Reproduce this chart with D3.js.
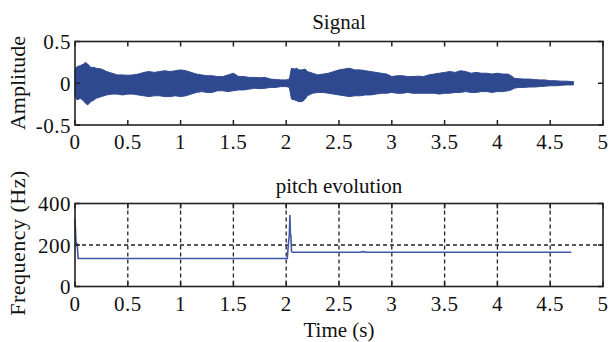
<!DOCTYPE html>
<html>
<head>
<meta charset="utf-8">
<script src="https://cdn.jsdelivr.net/npm/d3@7"></script>
<style>
  body { margin: 0; background: #fff; }
</style>
</head>
<body>
<div id="chart"></div>
<script>
// signal envelope (time in s, amplitude)
const sigTime  = [0, 0.02, 0.05, 0.08, 0.1, 0.12, 0.15, 0.18, 0.2, 0.25, 0.3, 0.35, 0.4, 0.45, 0.5, 0.55, 0.6, 0.65, 0.7, 0.75, 0.8, 0.85, 0.9, 0.95, 1.0, 1.05, 1.1, 1.15, 1.2, 1.25, 1.3, 1.35, 1.4, 1.45, 1.5, 1.55, 1.6, 1.65, 1.7, 1.75, 1.8, 1.85, 1.9, 1.95, 2.0, 2.03, 2.05, 2.08, 2.1, 2.12, 2.15, 2.18, 2.2, 2.25, 2.3, 2.35, 2.4, 2.45, 2.5, 2.55, 2.6, 2.65, 2.7, 2.75, 2.8, 2.85, 2.9, 2.95, 3.0, 3.05, 3.1, 3.15, 3.2, 3.25, 3.3, 3.35, 3.4, 3.45, 3.5, 3.55, 3.6, 3.65, 3.7, 3.75, 3.8, 3.85, 3.9, 3.95, 4.0, 4.05, 4.1, 4.13, 4.16, 4.2, 4.25, 4.3, 4.35, 4.4, 4.45, 4.5, 4.55, 4.6, 4.65, 4.7, 4.72]
const sigUpper = [0.17, 0.2, 0.21, 0.23, 0.25, 0.23, 0.19, 0.19, 0.18, 0.17, 0.14, 0.12, 0.1, 0.1, 0.095, 0.1, 0.11, 0.13, 0.14, 0.13, 0.14, 0.15, 0.14, 0.15, 0.16, 0.15, 0.13, 0.11, 0.1, 0.09, 0.09, 0.08, 0.08, 0.1, 0.12, 0.08, 0.08, 0.07, 0.07, 0.065, 0.07, 0.05, 0.045, 0.04, 0.04, 0.05, 0.18, 0.17, 0.18, 0.16, 0.16, 0.17, 0.14, 0.12, 0.1, 0.11, 0.12, 0.14, 0.16, 0.17, 0.18, 0.16, 0.16, 0.15, 0.14, 0.13, 0.12, 0.11, 0.08, 0.09, 0.09, 0.08, 0.08, 0.085, 0.08, 0.1, 0.11, 0.12, 0.13, 0.14, 0.13, 0.15, 0.14, 0.12, 0.13, 0.12, 0.12, 0.11, 0.12, 0.11, 0.11, 0.09, 0.06, 0.055, 0.05, 0.05, 0.045, 0.04, 0.04, 0.03, 0.03, 0.025, 0.025, 0.02, 0.02]
const sigLower = [-0.15, -0.2, -0.18, -0.21, -0.24, -0.26, -0.22, -0.2, -0.18, -0.16, -0.14, -0.13, -0.13, -0.14, -0.13, -0.13, -0.14, -0.15, -0.16, -0.15, -0.15, -0.16, -0.16, -0.15, -0.16, -0.15, -0.13, -0.11, -0.1, -0.11, -0.11, -0.09, -0.09, -0.1, -0.09, -0.08, -0.08, -0.07, -0.06, -0.065, -0.06, -0.05, -0.05, -0.04, -0.04, -0.05, -0.19, -0.2, -0.21, -0.22, -0.22, -0.19, -0.15, -0.12, -0.11, -0.11, -0.12, -0.13, -0.14, -0.15, -0.16, -0.15, -0.15, -0.14, -0.14, -0.13, -0.12, -0.12, -0.11, -0.12, -0.12, -0.11, -0.12, -0.12, -0.12, -0.12, -0.12, -0.13, -0.12, -0.12, -0.11, -0.11, -0.1, -0.11, -0.11, -0.1, -0.1, -0.11, -0.1, -0.1, -0.09, -0.08, -0.06, -0.05, -0.05, -0.045, -0.045, -0.04, -0.035, -0.03, -0.03, -0.025, -0.02, -0.02, -0.02]

// pitch track (time in s, Hz)
const pitchTime = [0, 0.01, 0.02, 0.03, 2.0, 2.01, 2.02, 2.03, 2.035, 2.04, 2.045, 2.05, 2.06, 2.7, 2.73, 2.76, 4.7]
const pitchHz   = [325, 210, 205, 135, 135, 135, 200, 250, 344, 250, 245, 170, 165, 165, 168, 165, 165]

const xTicks = [0, 0.5, 1, 1.5, 2, 2.5, 3, 3.5, 4, 4.5, 5]
const ampTicks = [-0.5, 0, 0.5]
const hzTicks = [0, 200, 400]

const width = 610, height = 342
const left = 75, right = 603
const svg = d3.select('#chart').append('svg')
    .attr('width', width).attr('height', height)
    .attr('font-family', "'Liberation Serif', serif")
    .attr('fill', '#111')

const x = d3.scaleLinear().domain([0, 5]).range([left, right])
const yAmp = d3.scaleLinear().domain([-0.5, 0.5]).range([125, 41.5])
const yHz = d3.scaleLinear().domain([0, 400]).range([286.5, 203.5])

function frame(y, yTicks, top, bottom) {
    let g = svg.append('g')
    // ticks point inward on all four sides
    g.selectAll('.xt').data(xTicks).enter().append('line')
        .attr('x1', d => x(d)).attr('x2', d => x(d))
        .attr('y1', bottom).attr('y2', bottom - 5)
        .attr('stroke', '#222').attr('stroke-width', 1.5)
    g.selectAll('.xt2').data(xTicks).enter().append('line')
        .attr('x1', d => x(d)).attr('x2', d => x(d))
        .attr('y1', top).attr('y2', top + 5)
        .attr('stroke', '#222').attr('stroke-width', 1.5)
    g.selectAll('.yt').data(yTicks).enter().append('line')
        .attr('x1', left).attr('x2', left + 5)
        .attr('y1', d => y(d)).attr('y2', d => y(d))
        .attr('stroke', '#222').attr('stroke-width', 1.5)
    g.selectAll('.yt2').data(yTicks).enter().append('line')
        .attr('x1', right).attr('x2', right - 5)
        .attr('y1', d => y(d)).attr('y2', d => y(d))
        .attr('stroke', '#222').attr('stroke-width', 1.5)
    g.append('rect')
        .attr('x', left).attr('y', top)
        .attr('width', right - left).attr('height', bottom - top)
        .attr('fill', 'none').attr('stroke', '#222').attr('stroke-width', 1.6)
    // tick labels
    g.selectAll('.xl').data(xTicks).enter().append('text')
        .attr('x', d => x(d)).attr('y', bottom + 24)
        .attr('text-anchor', 'middle').attr('font-size', 21)
        .attr('letter-spacing', 0.5)
        .text(d => String(d))
    g.selectAll('.yl').data(yTicks).enter().append('text')
        .attr('x', left - 4).attr('y', d => y(d) + 7.5)
        .attr('text-anchor', 'end').attr('font-size', 21)
        .attr('letter-spacing', 0.5)
        .text(d => String(d))
}

// ---- signal panel
let area = d3.area()
    .x((d, i) => x(sigTime[i]))
    .y0((d, i) => yAmp(sigLower[i]))
    .y1((d, i) => yAmp(sigUpper[i]))
svg.append('path')
    .attr('d', area(sigTime))
    .attr('fill', '#2f4991').attr('stroke', '#2f4991').attr('stroke-width', 1)
frame(yAmp, ampTicks, 41.5, 125)

svg.append('text').attr('x', 339).attr('y', 29)
    .attr('text-anchor', 'middle').attr('font-size', 21).text('Signal')
svg.append('text')
    .attr('transform', 'translate(25,83) rotate(-90)')
    .attr('text-anchor', 'middle').attr('font-size', 22).text('Amplitude')

// ---- pitch panel
let grid = svg.append('g')
grid.selectAll('line.v').data(xTicks.slice(1, -1)).enter().append('line')
    .attr('x1', d => x(d)).attr('x2', d => x(d))
    .attr('y1', yHz(400)).attr('y2', yHz(0))
    .attr('stroke', '#222').attr('stroke-width', 1.3).attr('stroke-dasharray', '4,3')
grid.append('line')
    .attr('x1', left).attr('x2', right)
    .attr('y1', yHz(200)).attr('y2', yHz(200))
    .attr('stroke', '#222').attr('stroke-width', 1.3).attr('stroke-dasharray', '4,3')

let line = d3.line()
    .x((d, i) => x(pitchTime[i]))
    .y(d => yHz(d))
svg.append('path')
    .attr('d', line(pitchHz))
    .attr('fill', 'none').attr('stroke', '#4256a6').attr('stroke-width', 1.6)
frame(yHz, hzTicks, 203.5, 286.5)

svg.append('text').attr('x', 339).attr('y', 193)
    .attr('text-anchor', 'middle').attr('font-size', 21).text('pitch evolution')
svg.append('text')
    .attr('transform', 'translate(25,243) rotate(-90)')
    .attr('text-anchor', 'middle').attr('font-size', 22)
    .attr('letter-spacing', 0.5).text('Frequency (Hz)')
svg.append('text').attr('x', 339).attr('y', 337)
    .attr('text-anchor', 'middle').attr('font-size', 21).text('Time (s)')
</script>
</body>
</html>
